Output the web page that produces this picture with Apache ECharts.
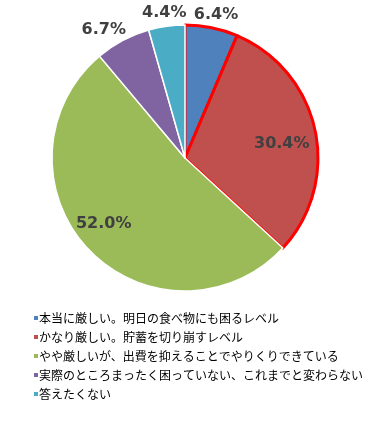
<!DOCTYPE html>
<html><head><meta charset="utf-8">
<script src="https://cdn.jsdelivr.net/npm/echarts@6/dist/echarts.min.js"></script>
<style>html,body{margin:0;padding:0;background:#fff}#c{width:371px;height:422px}</style>
</head><body><div id="c"></div>
<script>
const categories = ['本当に厳しい。明日の食べ物にも困るレベル','かなり厳しい。貯蓄を切り崩すレベル','やや厳しいが、出費を抑えることでやりくりできている','実際のところまったく困っていない、これまでと変わらない','答えたくない'];
const values = [6.4, 30.4, 52.0, 6.7, 4.4];
const colors = ['#4F81BD','#C0504D','#9BBB59','#8064A2','#4BACC6'];
const innerLabel = [false, true, true, false, false];

const center = [185, 158];
const labelStyle = {fontFamily:'DejaVu Sans', fontWeight:'bold', fontSize:16, color:'#404040'};
// small label nudges (style only)
const labelNudge = [[1,4],[-1,7],[-9,-3],[-11,4],[0,3]];

function mainData(){
  return categories.map((n,i)=>({name:n, value:values[i],
    itemStyle:{color:colors[i], borderColor:(i<2?'#FF0000':'#FFFFFF'), borderWidth:(i<2?3:1.5)}}));
}
function helperData(inner){
  return categories.map((n,i)=>({name:n, value:values[i],
    itemStyle:{color:'rgba(0,0,0,0)', borderWidth:0},
    label:{show: innerLabel[i]===inner, offset: labelNudge[i]}}));
}
const chart = echarts.init(document.getElementById('c'), null, {renderer:'canvas'});
chart.setOption({
  animation:false,
  color: colors,
  legend:{
    orient:'vertical', left:29, top:307, icon:'rect', itemWidth:4, itemHeight:4, itemGap:7,
    data: categories,
    itemStyle:{borderWidth:0},
    textStyle:{fontFamily:'Noto Sans CJK JP', fontSize:12, color:'#000', padding:[0,0,0,-4]}
  },
  series:[
    {type:'pie', center:center, radius:[0,133], startAngle:90, clockwise:true,
     label:{show:false}, labelLine:{show:false}, data:mainData(), z:2},
    {type:'pie', center:center, radius:[0,194], startAngle:90, clockwise:true, silent:true,
     label:Object.assign({position:'inside', formatter:p=>p.value.toFixed(1)+'%'}, labelStyle),
     labelLine:{show:false}, data:helperData(true), z:3, legendHoverLink:false},
    {type:'pie', center:center, radius:[0,294], startAngle:90, clockwise:true, silent:true,
     label:Object.assign({position:'inside', formatter:p=>p.value.toFixed(1)+'%'}, labelStyle),
     labelLine:{show:false}, data:helperData(false), z:3, legendHoverLink:false}
  ]
});
</script></body></html>
